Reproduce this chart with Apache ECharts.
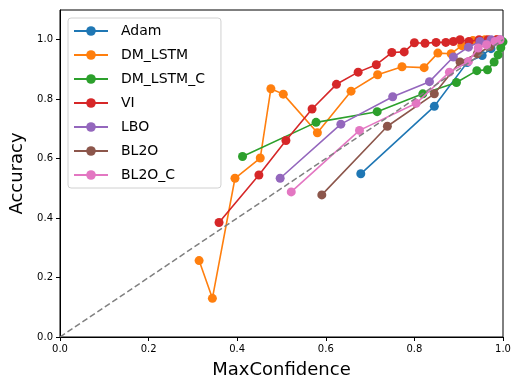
<!DOCTYPE html>
<html><head><meta charset="utf-8">
<script src="https://cdn.jsdelivr.net/npm/echarts@6/dist/echarts.min.js"></script>
<style>html,body{margin:0;padding:0;background:#fff}#c{width:513px;height:379px}</style>
</head><body><div id="c"></div>
<script>
const seriesNames = ['Adam','DM_LSTM','DM_LSTM_C','VI','LBO','BL2O','BL2O_C'];
const colors = ['#1f77b4','#ff7f0e','#2ca02c','#d62728','#9467bd','#8c564b','#e377c2'];
const adam = [[0.679,0.549],[0.845,0.776],[0.919,0.923],[0.953,0.947],[0.973,0.970],[0.993,0.993]];
const dmLstm = [[0.314,0.257],[0.344,0.130],[0.395,0.534],[0.452,0.602],[0.476,0.835],[0.504,0.817],[0.581,0.687],[0.657,0.827],[0.717,0.882],[0.772,0.909],[0.822,0.906],[0.853,0.955],[0.883,0.953],[0.907,0.980],[0.932,0.997],[0.959,1.0],[0.986,1.0]];
const dmLstmC = [[0.412,0.607],[0.578,0.722],[0.716,0.758],[0.819,0.818],[0.895,0.856],[0.941,0.896],[0.965,0.899],[0.980,0.925],[0.989,0.949],[0.995,0.973],[1.0,0.993]];
const vi = [[0.359,0.385],[0.449,0.545],[0.510,0.661],[0.569,0.767],[0.624,0.850],[0.673,0.891],[0.714,0.916],[0.749,0.957],[0.777,0.959],[0.800,0.990],[0.824,0.988],[0.849,0.991],[0.871,0.991],[0.888,0.994],[0.903,1.0],[0.923,0.994],[0.946,1.0],[0.966,1.0],[0.986,1.0]];
const lbo = [[0.497,0.534],[0.634,0.716],[0.751,0.808],[0.834,0.859],[0.888,0.942],[0.922,0.975],[0.948,0.994],[0.973,1.0],[0.993,1.0]];
const bl2o = [[0.591,0.478],[0.739,0.709],[0.845,0.818],[0.903,0.925],[0.942,0.953],[0.971,0.977],[0.989,0.997]];
const bl2oC = [[0.522,0.488],[0.676,0.695],[0.804,0.786],[0.879,0.891],[0.922,0.927],[0.944,0.972],[0.963,0.983],[0.982,0.994],[0.993,1.0]];
const diagonal = [[0,0],[1,1]];
const xTicks = [0,0.2,0.4,0.6,0.8,1.0];
const yTicks = [0,0.2,0.4,0.6,0.8,1.0];

const allData = [adam,dmLstm,dmLstmC,vi,lbo,bl2o,bl2oC];
const font = 'DejaVu Sans';
const chart = echarts.init(document.getElementById('c'));
const series = allData.map((d,i)=>({
  name: seriesNames[i], type:'line', data:d, symbol:'circle', symbolSize:9,
  color: colors[i], lineStyle:{width:1.6, color:colors[i]}, itemStyle:{color:colors[i]},
  emphasis:{disabled:true}, animation:false, z: 3+i
}));
series.push({type:'line', data:diagonal, symbol:'none', silent:true, animation:false, z:20,
  lineStyle:{color:'#808080', width:1.5, type:[6,3]}});
chart.setOption({
  animation:false,
  grid:{left:60,right:10,top:10,bottom:42,show:true,borderColor:'#000',borderWidth:1,containLabel:false,outerBoundsMode:'none'},
  xAxis:{type:'value',min:0,max:1,interval:0.2,
    name:'MaxConfidence',nameLocation:'middle',nameGap:24,
    nameTextStyle:{fontFamily:font,fontSize:18,color:'#000'},
    axisLine:{show:true,lineStyle:{color:'#000',width:1}},
    axisTick:{show:true,length:4,inside:false,lineStyle:{color:'#000'},customValues:xTicks},
    axisLabel:{fontFamily:font,fontSize:10,color:'#000',margin:7,customValues:xTicks,formatter:v=>v.toFixed(1)},
    splitLine:{show:false}},
  yAxis:{type:'value',min:0,max:1.1,
    name:'Accuracy',nameLocation:'middle',nameGap:20,
    nameTextStyle:{fontFamily:font,fontSize:18,color:'#000'},
    axisLine:{show:true,lineStyle:{color:'#000',width:1}},
    axisTick:{show:true,length:4,inside:false,lineStyle:{color:'#000'},customValues:yTicks},
    axisLabel:{fontFamily:font,fontSize:10,color:'#000',margin:7,customValues:yTicks,formatter:v=>v.toFixed(1)},
    splitLine:{show:false}},
  legend:{data:seriesNames, orient:'vertical', left:68, top:18, itemWidth:34, itemHeight:12, itemGap:10,
    padding:[6,16,6,5], borderColor:'#d0d0d0', borderWidth:1, borderRadius:3, backgroundColor:'rgba(255,255,255,0.8)',
    textStyle:{fontFamily:font,fontSize:14,color:'#000',padding:[0,0,0,8]}, selectedMode:false},
  series: series
});
</script></body></html>
